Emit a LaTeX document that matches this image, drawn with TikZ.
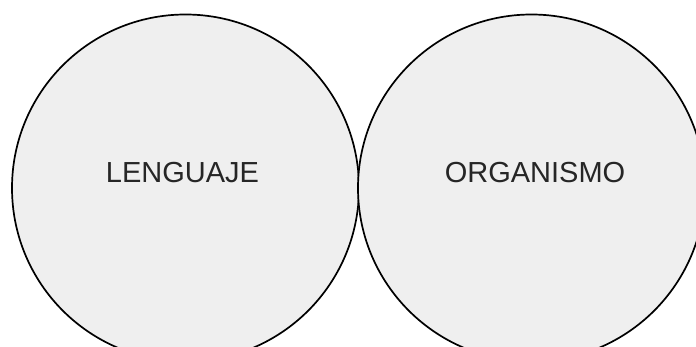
\documentclass[tikz,border=0pt]{standalone}
\usepackage{fontspec}
\setmainfont{Liberation Sans}
\definecolor{circfill}{HTML}{EFEFEF}
\begin{document}
\begin{tikzpicture}[x=1pt,y=1pt,
  blob/.style={circle,draw=black,line width=1.7pt,fill=circfill,minimum size=347pt,inner sep=0pt},
  lbl/.style={anchor=base,font=\fontsize{29}{34}\selectfont,text=black!85}]
\useasboundingbox (0,0) rectangle (696,347);
\begin{scope}
\clip (0,0) rectangle (696,347);
\node[blob] (left) at (185.5,159) {};
\node[blob] (right) at (531.5,159) {};
\end{scope}
\node[lbl] (t1) at (182.5,164) {LENGUAJE};
\node[lbl] (t2) at (535,164) {ORGANISMO};
\end{tikzpicture}
\end{document}
